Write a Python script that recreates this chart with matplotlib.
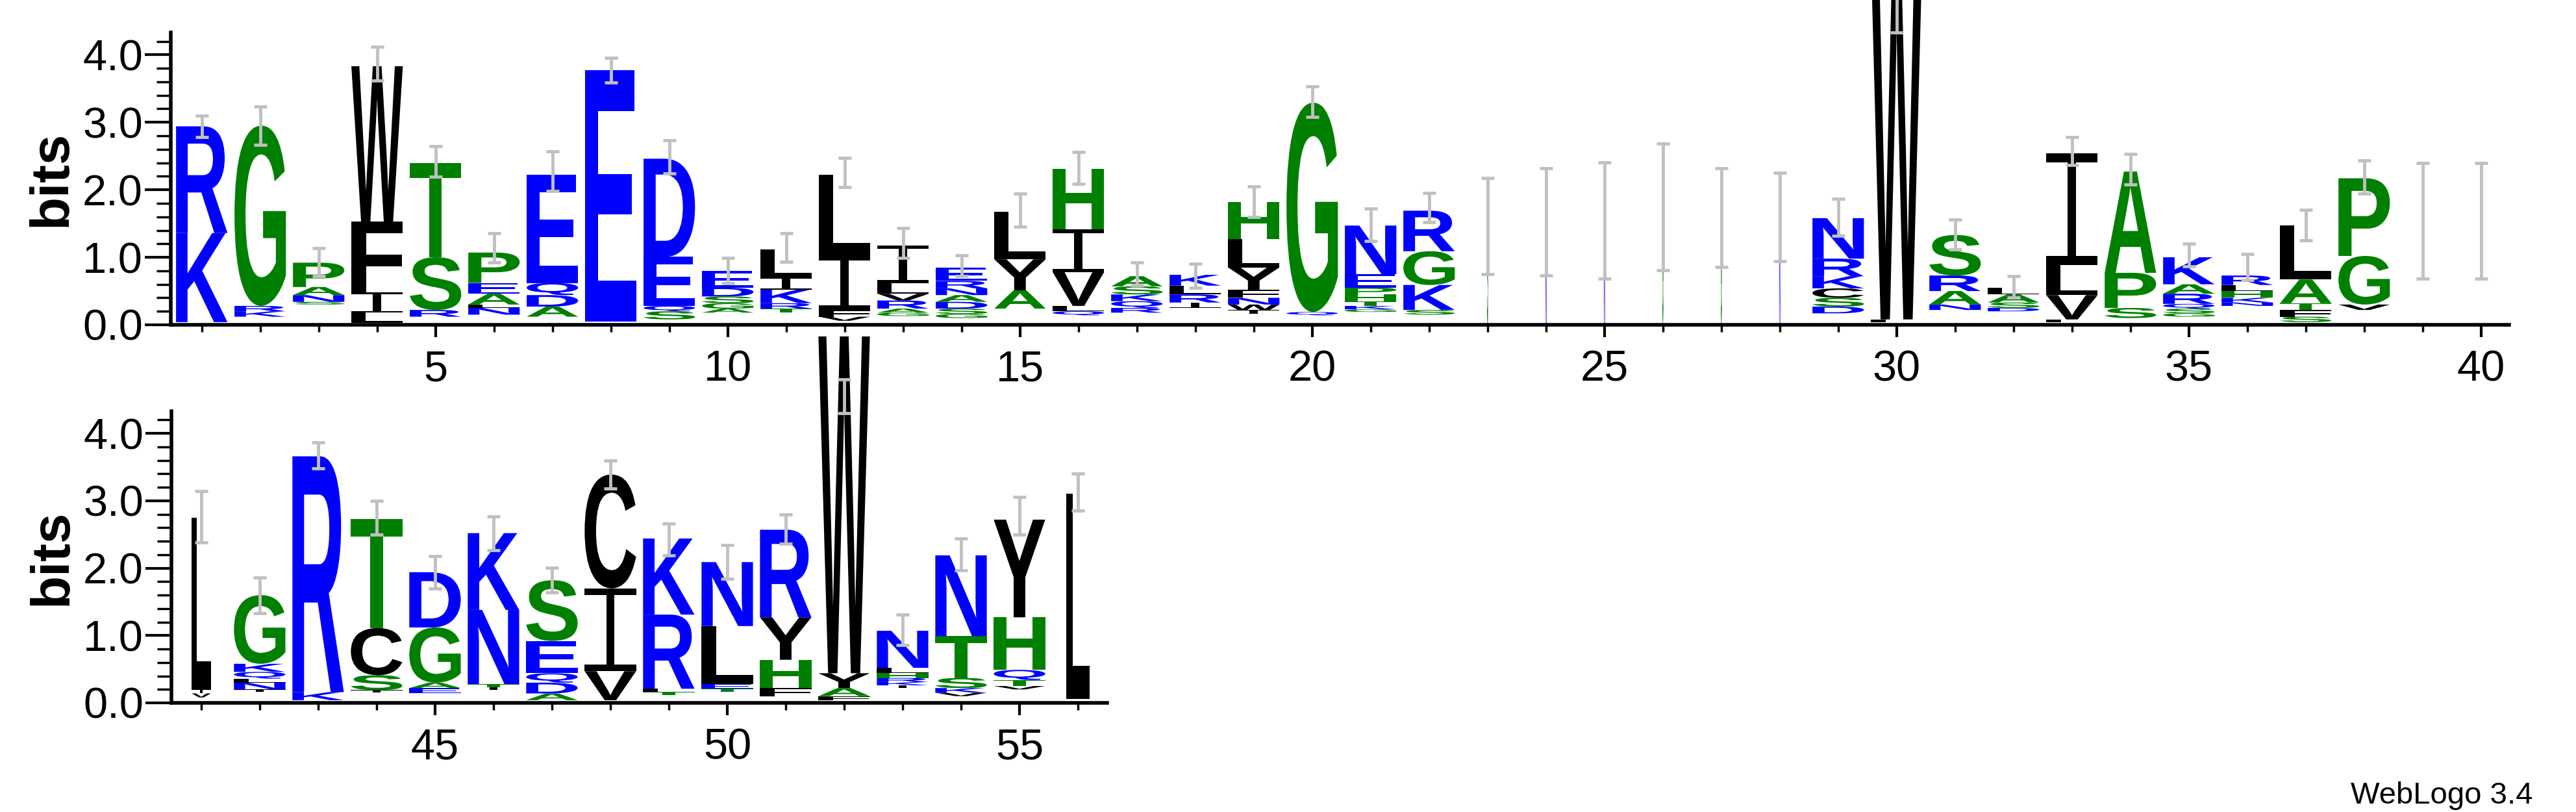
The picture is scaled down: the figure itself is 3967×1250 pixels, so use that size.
import matplotlib
matplotlib.use("Agg")
import matplotlib.pyplot as plt
from matplotlib.textpath import TextPath
from matplotlib.font_manager import FontProperties
from matplotlib.patches import PathPatch
from matplotlib.path import Path
from matplotlib.transforms import Affine2D
from matplotlib.ticker import MultipleLocator, FormatStrFormatter

positions = list(range(1, 57))
letters = ["KR", "KRG", "SNAP", "LIFW", "RST", "NLAEP", "ADQE", "E", "SQED", "AGSDE",
           "TRKIL", "VFIL", "GARVLI", "GSDANRE", "AYL", "QLVIH", "RQKSA", "IRLK", "IWNFYLH", "QG",
           "GKTHPEN", "SKGR", "S", "N", "N", "G", "G", "N", "DSCKRN", "FW",
           "NARS", "DSAL", "FVLI", "SPA", "GSQRAK", "NKHLR", "SFTAL", "VGP", "", "",
           "VIL", "INLQKG", "KR", "ISCT", "EAGD", "ITNK", "ADQES", "VIC", "TLRK", "TELN",
           "FHYR", "FAYW", "IKRHLN", "VKSTN", "VTQHY", "L"]
heights = [[1.32, 1.58], [0.08, 0.08, 2.67], [0.04, 0.1, 0.12, 0.36], [0.15, 0.3, 1.05, 2.3],
           [0.1, 0.78, 1.4], [0.1, 0.05, 0.16, 0.16, 0.45], [0.15, 0.17, 0.18, 1.6], [3.72],
           [0.12, 0.08, 0.73, 1.45], [0.06, 0.08, 0.1, 0.13, 0.25], [0.06, 0.08, 0.2, 0.18, 0.42],
           [0.06, 0.1, 0.8, 1.2], [0.05, 0.06, 0.12, 0.1, 0.16, 0.55],
           [0.06, 0.08, 0.1, 0.1, 0.1, 0.11, 0.2], [0.27, 0.46, 0.7], [0.06, 0.08, 0.5, 0.63, 0.9],
           [0.07, 0.1, 0.1, 0.12, 0.15], [0.08, 0.12, 0.13, 0.16],
           [0.06, 0.08, 0.1, 0.12, 0.33, 0.42, 0.55], [0.05, 3.1],
           [0.04, 0.05, 0.07, 0.1, 0.1, 0.2, 0.72], [0.07, 0.37, 0.5, 0.6],
           [1.47], [1.52], [1.54], [1.72], [1.6], [1.6],
           [0.1, 0.13, 0.14, 0.18, 0.26, 0.6], [0.04, 5.4], [0.08, 0.2, 0.23, 0.6],
           [0.05, 0.08, 0.12, 0.1], [0.04, 0.36, 0.45, 1.65], [0.15, 0.52, 1.5],
           [0.05, 0.07, 0.07, 0.15, 0.14, 0.4], [0.05, 0.07, 0.1, 0.09, 0.14],
           [0.08, 0.1, 0.1, 0.35, 0.8], [0.08, 0.72, 1.15], [], [],
           [0.06, 0.06, 2.55], [0.04, 0.1, 0.06, 0.1, 0.12, 1.02], [0.12, 3.5],
           [0.04, 0.22, 0.7, 1.62], [0.08, 0.08, 0.82, 0.82], [0.04, 0.05, 1.1, 1.14],
           [0.1, 0.16, 0.14, 0.48, 0.9], [0.43, 1.23, 1.69], [0.04, 0.05, 1.1, 1.13],
           [0.05, 0.07, 0.86, 0.95], [0.12, 0.42, 0.63, 1.3], [0.06, 0.12, 0.22, 5.0],
           [0.04, 0.05, 0.06, 0.07, 0.08, 0.55], [0.05, 0.07, 0.15, 0.62, 1.2],
           [0.05, 0.09, 0.15, 0.78, 1.45], [3.05]]
stack_base = [0.04, 0.12, 0.3, 0.03, 0.12, 0.15, 0.12, 0.05, 0.08, 0.18,
              0.18, 0.06, 0.13, 0.1, 0.24, 0.14, 0.18, 0.25, 0.16, 0.14,
              0.19, 0.15, 0, 0, 0, 0, 0, 0, 0.17, 0.04,
              0.22, 0.2, 0.04, 0.1, 0.12, 0.28, 0.04, 0.22, 0, 0,
              0.08, 0.16, 0.04, 0.15, 0.14, 0.19, 0.04, 0.04, 0.12, 0.16,
              0.1, 0.04, 0.22, 0.1, 0.2, 0.06]
err_lo = [2.78, 2.67, 0.72, 3.62, 2.19, 0.92, 1.98, 3.59, 2.24, 0.62,
          0.93, 2.04, 0.99, 0.72, 1.45, 2.09, 0.59, 0.55, 1.6, 3.08,
          1.24, 1.52, 0.75, 0.73, 0.68, 0.81, 0.86, 0.94, 1.32, 4.33,
          1.12, 0.4, 2.37, 2.08, 0.87, 0.66, 1.25, 1.94, 0.68, 0.68,
          2.38, 1.33, 3.48, 2.5, 1.7, 2.27, 1.64, 3.18, 2.19, 1.84,
          2.36, 4.3, 0.86, 1.97, 2.5, 2.85]
err_hi = [3.10, 3.23, 1.14, 4.12, 2.65, 1.36, 2.57, 3.95, 2.73, 0.99,
          1.36, 2.47, 1.43, 1.03, 1.94, 2.56, 0.92, 0.9, 2.05, 3.53,
          1.72, 1.95, 2.17, 2.32, 2.41, 2.68, 2.32, 2.25, 1.87, 4.9,
          1.56, 0.72, 2.78, 2.53, 1.2, 1.05, 1.7, 2.43, 2.4, 2.4,
          3.14, 1.86, 3.87, 3.0, 2.18, 2.77, 2.01, 3.6, 2.66, 2.34,
          2.8, 4.8, 1.31, 2.44, 3.06, 3.4]
col_width = [0.88] * 56
for p in (23, 24, 25, 26, 27, 28):
    col_width[p - 1] = 0.02
col_width[40] = 0.33
col_width[55] = 0.4

BLUE, GREEN, BLACK = "#0000ff", "#008000", "#000000"
color_of = {}
for c in "KRDENQ":
    color_of[c] = BLUE
for c in "GSTAPH":
    color_of[c] = GREEN
for c in "WFILVYCM":
    color_of[c] = BLACK

letter_font = FontProperties(family=["Liberation Sans", "DejaVu Sans"], weight="bold")
tick_font = ["Liberation Sans Narrow", "Liberation Sans", "DejaVu Sans"]


def ibeam_path():
    # unit-box I glyph with serifs (bar thickness 8%, stem 16%)
    b, s = 0.08, 0.08
    verts = [(0, 0), (1, 0), (1, b), (0.5 + s, b), (0.5 + s, 1 - b), (1, 1 - b), (1, 1),
             (0, 1), (0, 1 - b), (0.5 - s, 1 - b), (0.5 - s, b), (0, b), (0, 0)]
    codes = [Path.MOVETO] + [Path.LINETO] * 11 + [Path.CLOSEPOLY]
    return Path(verts, codes)


W, H = 3967, 1250
fig = plt.figure(figsize=(W / 100, H / 100), dpi=100)
ax_top = fig.add_axes([263 / W, 1 - 500 / H, (3864 - 263) / W, 450 / H])
ax_bot = fig.add_axes([264 / W, 1 - 1082 / H, (1705 - 264) / W, 449 / H])


def draw_letter(ax, ch, x, y0, w, h, color):
    if ch == "I":
        tp = ibeam_path()
    else:
        tp = TextPath((0, 0), ch, size=1, prop=letter_font)
    bb = tp.get_extents()
    t = (Affine2D().translate(-bb.x0, -bb.y0)
         .scale(w / bb.width, h / bb.height).translate(x - w / 2, y0))
    ax.add_patch(PathPatch(t.transform_path(tp), fc=color, ec="none",
                           clip_on=False, zorder=2))


for i, pos in enumerate(positions):
    ax = ax_top if pos <= 40 else ax_bot
    y = stack_base[i]
    for ch, h in zip(letters[i], heights[i]):
        draw_letter(ax, ch, pos, y, col_width[i], h, color_of[ch])
        y += h
    mid = (err_lo[i] + err_hi[i]) / 2
    ax.errorbar([pos], [mid], yerr=[[mid - err_lo[i]], [err_hi[i] - mid]],
                fmt="none", ecolor="#c0c0c0", elinewidth=3.5, capsize=7,
                capthick=3.5, zorder=3, clip_on=False)

for ax, (lo, hi), majors in ((ax_top, (0.47, 40.48), range(5, 41, 5)),
                             (ax_bot, (40.49, 56.5), range(45, 56, 5))):
    ax.set_xlim(lo, hi)
    ax.set_ylim(0, 4.33)
    ax.spines["top"].set_visible(False)
    ax.spines["right"].set_visible(False)
    for s in ("left", "bottom"):
        ax.spines[s].set_linewidth(4)
    ax.yaxis.set_major_locator(MultipleLocator(1.0))
    ax.yaxis.set_minor_locator(MultipleLocator(0.2))
    ax.yaxis.set_major_formatter(FormatStrFormatter("%.1f"))
    ax.set_xticks(list(majors))
    ax.set_xticks([p for p in range(int(lo) + 1, int(hi) + 1)], minor=True)
    ax.tick_params(axis="y", which="major", length=29, width=3, direction="out", pad=2)
    ax.tick_params(axis="y", which="minor", length=16, width=2.5, direction="out")
    ax.tick_params(axis="x", which="major", length=14, width=3, direction="out", pad=14)
    ax.tick_params(axis="x", which="minor", length=8, width=2.5, direction="out")
    for lab in ax.get_xticklabels() + ax.get_yticklabels():
        lab.set_family(tick_font)
        lab.set_fontsize(48)
    ax.set_ylabel("bits", fontsize=60, fontweight="bold",
                  family=["Liberation Sans", "DejaVu Sans"], labelpad=6)

fig.text(3900 / W, 25 / H, "WebLogo 3.4", ha="right", va="center", fontsize=34,
         family=["Liberation Sans", "DejaVu Sans"])

fig.savefig("out.png", dpi=100)
